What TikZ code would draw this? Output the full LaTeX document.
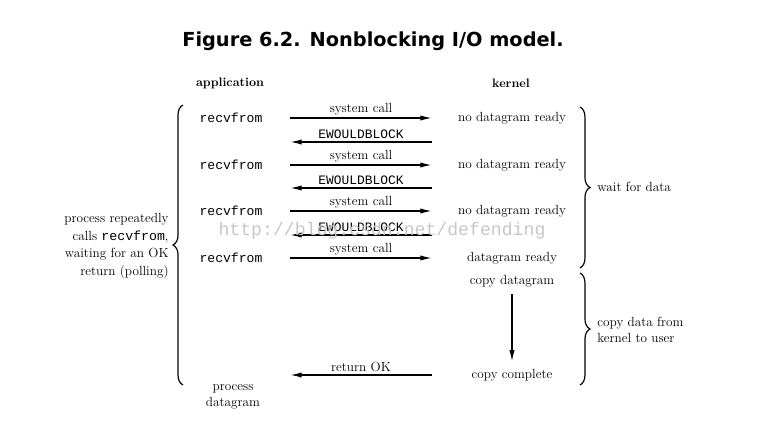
\documentclass[tikz,border=0pt]{standalone}
\usepackage{fontspec}
\setmonofont{Liberation Mono}
\newfontfamily\titlefont{DejaVu Sans}
\usetikzlibrary{arrows.meta,decorations.pathreplacing}

\tikzset{
  txt/.style={font=\fontsize{11.3}{14}\selectfont, inner sep=1pt},
  code/.style={font=\ttfamily\fontsize{11.2}{14}\selectfont, inner sep=1pt},
  head/.style={font=\bfseries\fontsize{10.5}{12}\selectfont, inner sep=1pt},
  lbl/.style={font=\fontsize{11.3}{13}\selectfont, above, inner sep=2pt},
  ewb/.style={font=\ttfamily\fontsize{11}{13}\selectfont, above, inner sep=2pt},
  msg/.style={line width=1.2pt, -{Latex[length=10pt,width=4.5pt]}},
  brc/.style={decorate, decoration={brace, amplitude=8.5pt}, line width=1pt}
}

\begin{document}
\begin{tikzpicture}[x=0.03cm, y=-0.03cm]
            \useasboundingbox (0,0) rectangle (773,440);
            \node[font=\titlefont\bfseries\fontsize{16.5}{20}\selectfont] (title) at (373,41) {Figure 6.2. Nonblocking I/O model.};
            \node[head] (app) at (230,83) {application};
            \node[head] (kern) at (511,83) {kernel};
            % system calls, one per row
            \foreach \i/\y/\k in {1/118/no datagram ready, 2/165/no datagram ready, 3/211/no datagram ready, 4/258/datagram ready} {
                \node[code] (r\i) at (231,\y) {recvfrom};
                \node[txt] (k\i) at (512,\y) {\k};
                \coordinate (s\i) at (290,\y);
                \coordinate (t\i) at (432,\y);
                \draw[msg] (s\i) -- node[lbl] {system call} (t\i);
            }
            % the error returns
            \foreach \i/\y in {1/142, 2/188, 3/235} {
                \coordinate (e\i) at (432,\y);
                \coordinate (f\i) at (290,\y);
                \draw[msg] (e\i) -- node[ewb] {EWOULDBLOCK} (f\i);
            }
            \node[txt] (cpy) at (512,281) {copy datagram};
            \node[txt] (done) at (512,375) {copy complete};
            \draw[msg, shorten <=5pt, shorten >=5pt] (cpy.south) -- (done.north);
            \coordinate (e4) at (432,375);
            \coordinate (f4) at (290,375);
            \draw[msg] (e4) -- node[lbl] {return OK} (f4);
            \node[txt, align=center, font=\fontsize{11.3}{13.6}\selectfont] (proc) at (233,397) {process\\datagram};
            % braces
            \draw[brc] (183,385) -- (183,105);
            \node[txt, anchor=east, align=right, font=\fontsize{11.3}{15}\selectfont] (poll) at (170,246) {process repeatedly\\calls \texttt{recvfrom},\\waiting for an OK\\return (polling)};
            \draw[brc] (580,107) -- (580,268);
            \node[txt, anchor=west] (wait) at (596,187) {wait for data};
            \draw[brc] (580,273) -- (580,385);
            \node[txt, anchor=west, align=left, font=\fontsize{11.3}{13}\selectfont] (user) at (596,330) {copy data from\\kernel to user};
            \node[font=\ttfamily\fontsize{15.5}{18}\selectfont, text=black!22] (mark) at (382,231) {http://blog.csdn.net/defending};
        \end{tikzpicture}
\end{document}
